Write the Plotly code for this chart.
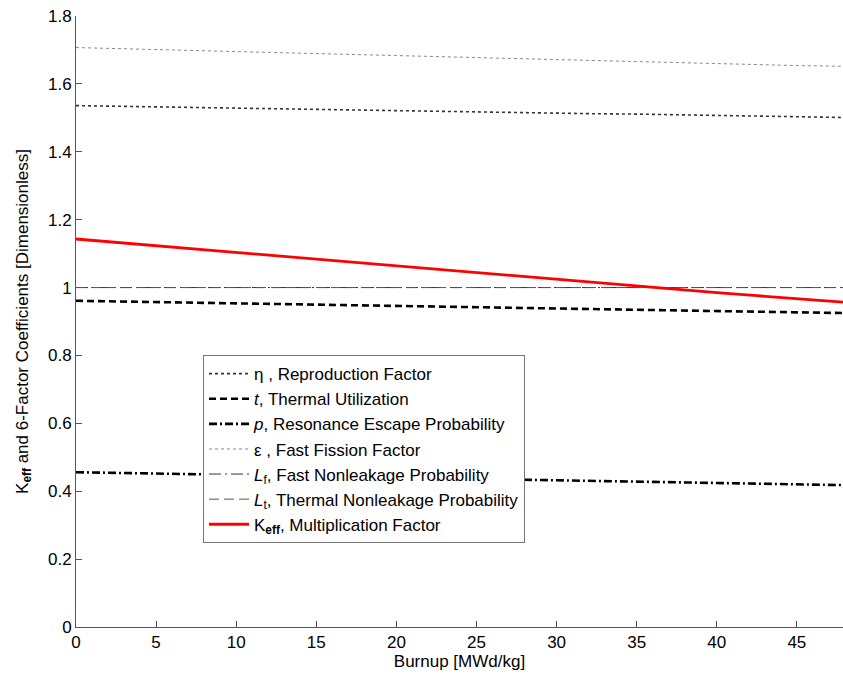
import plotly.graph_objects as go

burnup = [0, 2.5, 5, 7.5, 10, 12.5, 15, 17.5, 20, 22.5, 25, 27.5, 30, 32.5, 35, 37.5, 40, 42.5, 45, 47.9]

eta = [1.536, 1.534, 1.532, 1.530, 1.528, 1.526, 1.524, 1.523, 1.521, 1.519, 1.518, 1.516, 1.514, 1.512, 1.511, 1.509, 1.507, 1.505, 1.503, 1.501]
t_util = [0.961, 0.959, 0.957, 0.955, 0.953, 0.952, 0.950, 0.948, 0.946, 0.944, 0.943, 0.941, 0.939, 0.937, 0.935, 0.933, 0.931, 0.929, 0.927, 0.925]
p_res = [0.456, 0.454, 0.452, 0.450, 0.448, 0.446, 0.444, 0.442, 0.440, 0.438, 0.436, 0.434, 0.432, 0.430, 0.428, 0.426, 0.424, 0.422, 0.420, 0.418]
eps = [1.707, 1.704, 1.701, 1.698, 1.695, 1.692, 1.689, 1.686, 1.683, 1.680, 1.677, 1.674, 1.671, 1.668, 1.665, 1.662, 1.659, 1.656, 1.654, 1.652]
L_f = [1.0] * len(burnup)
L_t = [1.0] * len(burnup)
keff = [1.143, 1.133, 1.123, 1.113, 1.103, 1.093, 1.083, 1.073, 1.063, 1.054, 1.044, 1.034, 1.024, 1.014, 1.004, 0.995, 0.985, 0.976, 0.967, 0.957]

names = [
    "η , Reproduction Factor",
    "<i>t</i>, Thermal Utilization",
    "<i>p</i>, Resonance Escape Probability",
    "ε , Fast Fission Factor",
    "<i>L</i><sub>f</sub>, Fast Nonleakage Probability",
    "<i>L</i><sub>t</sub>, Thermal Nonleakage Probability",
    "K<sub><b>eff</b></sub>, Multiplication Factor",
]

fig = go.Figure()
fig.add_trace(go.Scatter(x=burnup, y=eta, mode="lines", name=names[0],
                         line=dict(color="#333333", width=1.6, dash="dot")))
fig.add_trace(go.Scatter(x=burnup, y=t_util, mode="lines", name=names[1],
                         line=dict(color="black", width=2.6, dash="7px,4px")))
fig.add_trace(go.Scatter(x=burnup, y=p_res, mode="lines", name=names[2],
                         line=dict(color="black", width=2.6, dash="8px,3px,2px,3px")))
fig.add_trace(go.Scatter(x=burnup, y=eps, mode="lines", name=names[3],
                         line=dict(color="#888888", width=1, dash="dot")))
fig.add_trace(go.Scatter(x=burnup, y=L_f, mode="lines", name=names[4],
                         line=dict(color="#333333", width=1, dash="12px,4px,2px,4px")))
fig.add_trace(go.Scatter(x=burnup, y=L_t, mode="lines", name=names[5],
                         line=dict(color="#555555", width=1, dash="10px,5px")))
fig.add_trace(go.Scatter(x=burnup, y=keff, mode="lines", name=names[6],
                         line=dict(color="#ff0000", width=2.8)))

fig.update_layout(
    width=843, height=677,
    margin=dict(l=76, r=0, t=16, b=50),
    paper_bgcolor="white", plot_bgcolor="white",
    font=dict(family="Liberation Sans, Arial", size=17, color="black"),
    showlegend=True,
    legend=dict(x=0.1656, y=0.445, xanchor="left", yanchor="top",
                bgcolor="white", bordercolor="#777777", borderwidth=1,
                font=dict(size=17), itemwidth=40, tracegroupgap=0),
    xaxis=dict(range=[0, 47.88], tickvals=[0, 5, 10, 15, 20, 25, 30, 35, 40, 45],
               ticks="inside", ticklen=6, tickcolor="#555555",
               showline=True, linecolor="#555555", linewidth=1,
               showgrid=False, zeroline=False, ticklabeloverflow="allow",
               tickfont=dict(size=17),
               title=dict(text="Burnup [MWd/kg]", font=dict(size=17), standoff=3)),
    yaxis=dict(range=[0, 1.8], tickvals=[0, 0.2, 0.4, 0.6, 0.8, 1.0, 1.2, 1.4, 1.6, 1.8],
               ticktext=["0", "0.2", "0.4", "0.6", "0.8", "1", "1.2", "1.4", "1.6", "1.8"],
               ticks="inside", ticklen=6, tickcolor="#555555",
               showline=True, linecolor="#555555", linewidth=1,
               showgrid=False, zeroline=False, ticklabeloverflow="allow",
               tickfont=dict(size=17),
               title=dict(text="K<sub><b>eff</b></sub> and 6-Factor Coefficients [Dimensionless]",
                          font=dict(size=17), standoff=15)),
)

fig.write_html("out.html", config={"displayModeBar": False},
               post_script="document.body.style.margin='0';document.body.style.overflow='hidden';")
